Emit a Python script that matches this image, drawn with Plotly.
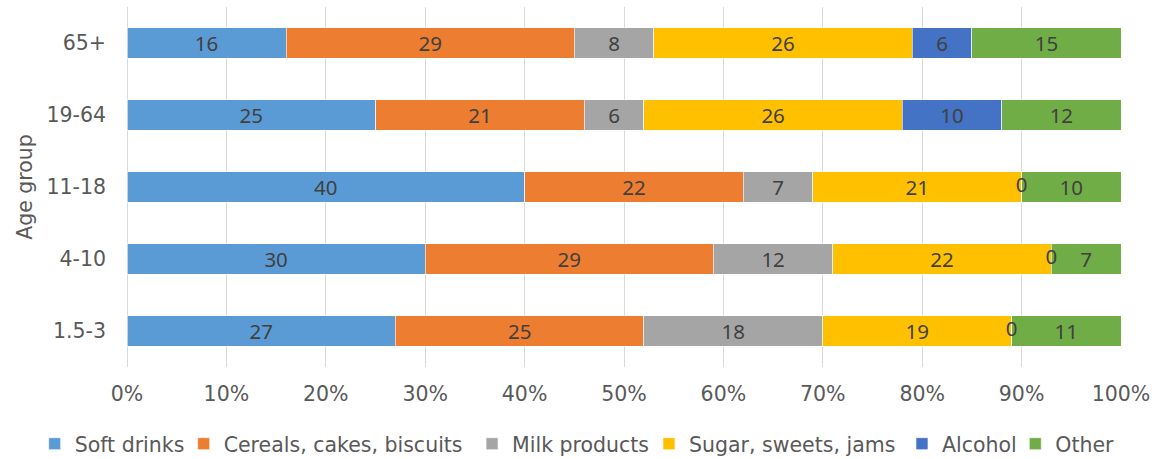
import plotly.graph_objects as go

age_groups = ["1.5-3", "4-10", "11-18", "19-64", "65+"]
soft_drinks = [27, 30, 40, 25, 16]
cereals = [25, 29, 22, 21, 29]
milk = [18, 12, 7, 6, 8]
sugar = [19, 22, 21, 26, 26]
alcohol = [0, 0, 0, 10, 6]
other = [11, 7, 10, 12, 15]

series = [
    ("Soft drinks", soft_drinks, "#5B9BD5"),
    ("Cereals, cakes, biscuits", cereals, "#ED7D31"),
    ("Milk products", milk, "#A5A5A5"),
    ("Sugar, sweets, jams", sugar, "#FFC000"),
    ("Alcohol", alcohol, "#4472C4"),
    ("Other", other, "#70AD47"),
]

# horizontal placement (container fraction) of each legend entry
legend_x = [0.0297, 0.1574, 0.4045, 0.5561, 0.7729, 0.870]

FAM = "DejaVu Sans, Liberation Sans, Arial, sans-serif"
label_font = dict(family="Noto Sans, Open Sans, sans-serif", size=20.5, color="#404040")
axis_font = dict(family=FAM, size=20.5, color="#595959")
legend_font = dict(family=FAM, size=20.5, color="#595959")

fig = go.Figure()
legend_layouts = {}
for i, (name, vals, color) in enumerate(series):
    lid = "legend" if i == 0 else f"legend{i + 1}"
    fig.add_trace(go.Bar(
        name=name, y=age_groups, x=vals, orientation="h",
        marker=dict(color=color, line=dict(color="rgba(255,255,255,0.6)", width=1)),
        text=[str(v) if v != 0 else "" for v in vals],
        textposition="inside", insidetextanchor="middle", textangle=0,
        textfont=label_font, constraintext="none",
        hoverinfo="skip", legend=lid,
    ))
    legend_layouts[lid] = dict(
        orientation="h", xref="container", x=legend_x[i], xanchor="left",
        yref="container", y=0.033, yanchor="middle",
        font=legend_font, itemclick=False, itemdoubleclick=False,
        bgcolor="rgba(0,0,0,0)",
    )

# zero-valued labels (Alcohol) shown at their stack position
cum_before_alc = [s + c + m + g for s, c, m, g in zip(soft_drinks, cereals, milk, sugar)]
zx = [cum_before_alc[i] for i, v in enumerate(alcohol) if v == 0]
zy = [age_groups[i] for i, v in enumerate(alcohol) if v == 0]
fig.add_trace(go.Scatter(
    x=zx, y=zy, mode="text", text=["0"] * len(zx),
    textfont=label_font, showlegend=False, hoverinfo="skip",
))

fig.update_layout(
    barmode="stack",
    bargap=0.58,
    width=1167, height=459,
    margin=dict(l=127, r=46, t=7, b=92),
    paper_bgcolor="white", plot_bgcolor="white",
    font=axis_font,
    xaxis=dict(
        range=[0, 100], dtick=10, ticksuffix="%",
        showgrid=True, gridcolor="#D9D9D9", gridwidth=1.3,
        zeroline=True, zerolinecolor="#D9D9D9", zerolinewidth=1.3,
        showline=False, ticks="", ticklabelstandoff=12, tickangle=0,
        tickfont=axis_font,
    ),
    yaxis=dict(
        categoryorder="array", categoryarray=age_groups,
        showgrid=False, showline=False, ticks="",
        ticklabelstandoff=20,
        tickfont=axis_font,
        title=dict(text="Age group", standoff=8, font=axis_font),
    ),
    **legend_layouts,
)

fig.write_html("out.html")
